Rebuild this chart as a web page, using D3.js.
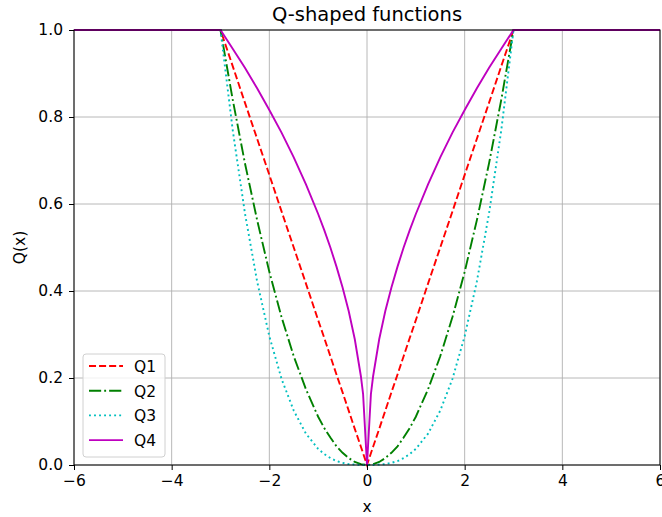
<!DOCTYPE html>
<html>
<head>
<meta charset="utf-8">
<script src="https://cdn.jsdelivr.net/npm/d3@7"></script>
<style>
  body { margin: 0; background: #fff; }
  text { font-family: "DejaVu Sans", sans-serif; fill: #000; }
</style>
</head>
<body>
<div id="chart"></div>
<script>
// sample points (x) and the four Q-shaped curves
const xs = [-6, -3, -2.75, -2.5, -2.25, -2, -1.75, -1.5, -1.25, -1, -0.875, -0.75, -0.625, -0.5, -0.375, -0.25, -0.125, -0.08, 0,
             0.08, 0.125, 0.25, 0.375, 0.5, 0.625, 0.75, 0.875, 1, 1.25, 1.5, 1.75, 2, 2.25, 2.5, 2.75, 3, 6];
const q1 = [1, 1, 0.917, 0.833, 0.75, 0.667, 0.583, 0.5, 0.417, 0.333, 0.292, 0.25, 0.208, 0.167, 0.125, 0.083, 0.042, 0.027, 0,
            0.027, 0.042, 0.083, 0.125, 0.167, 0.208, 0.25, 0.292, 0.333, 0.417, 0.5, 0.583, 0.667, 0.75, 0.833, 0.917, 1, 1];
const q2 = [1, 1, 0.840, 0.694, 0.563, 0.444, 0.340, 0.25, 0.174, 0.111, 0.085, 0.063, 0.043, 0.028, 0.016, 0.007, 0.002, 0.001, 0,
            0.001, 0.002, 0.007, 0.016, 0.028, 0.043, 0.063, 0.085, 0.111, 0.174, 0.25, 0.340, 0.444, 0.563, 0.694, 0.840, 1, 1];
const q3 = [1, 1, 0.770, 0.579, 0.422, 0.296, 0.198, 0.125, 0.072, 0.037, 0.025, 0.016, 0.009, 0.005, 0.002, 0.001, 0, 0, 0,
            0, 0, 0.001, 0.002, 0.005, 0.009, 0.016, 0.025, 0.037, 0.072, 0.125, 0.198, 0.296, 0.422, 0.579, 0.770, 1, 1];
const q4 = [1, 1, 0.957, 0.913, 0.866, 0.816, 0.764, 0.707, 0.645, 0.577, 0.540, 0.5, 0.456, 0.408, 0.354, 0.289, 0.204, 0.163, 0,
            0.163, 0.204, 0.289, 0.354, 0.408, 0.456, 0.5, 0.540, 0.577, 0.645, 0.707, 0.764, 0.816, 0.866, 0.913, 0.957, 1, 1];
const seriesNames = ['Q1', 'Q2', 'Q3', 'Q4'];
const xTicks = [-6, -4, -2, 0, 2, 4, 6];
const yTicks = [0, 0.2, 0.4, 0.6, 0.8, 1.0];

const width = 662, height = 517;
const margin = {top: 30, right: 2, bottom: 52, left: 74};
const lw = 1.9;
const fontSize = '15.5px';
const styles = [
    {color: '#ff0000', dash: [3.7 * lw, 1.6 * lw]},
    {color: '#008000', dash: [6.4 * lw, 1.6 * lw, 1 * lw, 1.6 * lw]},
    {color: '#00bfbf', dash: [1 * lw, 1.65 * lw]},
    {color: '#bf00bf', dash: null}
];

const svg = d3.select('#chart')
    .append('svg')
    .attr('width', width)
    .attr('height', height)
;

const x = d3.scaleLinear().domain([-6, 6]).range([margin.left, width - margin.right]);
const y = d3.scaleLinear().domain([0, 1]).range([height - margin.bottom, margin.top]);

// grid
svg.append('g')
    .selectAll('line.gx')
    .data(xTicks)
    .enter()
    .append('line')
    .attr('x1', d => x(d)).attr('x2', d => x(d))
    .attr('y1', y(0)).attr('y2', y(1))
    .style('stroke', '#b0b0b0').style('stroke-width', 0.9)
;
svg.append('g')
    .selectAll('line.gy')
    .data(yTicks)
    .enter()
    .append('line')
    .attr('x1', x(-6)).attr('x2', x(6))
    .attr('y1', d => y(d)).attr('y2', d => y(d))
    .style('stroke', '#b0b0b0').style('stroke-width', 0.9)
;

// curves
const allSeries = [q1, q2, q3, q4];
const line = d3.line()
    .x(d => x(d[0]))
    .y(d => y(d[1]))
;
allSeries.forEach((vals, i) => {
    const pts = xs.map((xv, j) => [xv, vals[j]]);
    const path = svg.append('path')
        .datum(pts)
        .attr('d', line)
        .style('fill', 'none')
        .style('stroke', styles[i].color)
        .style('stroke-width', lw)
    ;
    if (styles[i].dash) path.style('stroke-dasharray', styles[i].dash.join(','));
});

// frame
svg.append('rect')
    .attr('x', x(-6)).attr('y', y(1))
    .attr('width', x(6) - x(-6)).attr('height', y(0) - y(1))
    .style('fill', 'none').style('stroke', '#000').style('stroke-width', 1)
;

// axes
const xAxis = svg.append('g')
    .attr('transform', `translate(0, ${y(0)})`)
    .call(d3.axisBottom(x).tickValues(xTicks).tickSize(5).tickPadding(5)
        .tickFormat(d => d3.format('d')(d).replace('-', '\u2212')))
;
const yAxis = svg.append('g')
    .attr('transform', `translate(${x(-6)}, 0)`)
    .call(d3.axisLeft(y).tickValues(yTicks).tickSize(5).tickPadding(6).tickFormat(d3.format('.1f')))
;
[xAxis, yAxis].forEach(a => {
    a.select('.domain').remove();
    a.selectAll('text').style('font-size', fontSize).style('font-family', 'DejaVu Sans');
    a.selectAll('line').style('stroke', '#000');
});

// labels
svg.append('text')
    .text('Q-shaped functions')
    .attr('x', (x(-6) + x(6)) / 2)
    .attr('y', 21)
    .attr('text-anchor', 'middle')
    .style('font-size', '19.5px')
;
svg.append('text')
    .text('x')
    .attr('x', (x(-6) + x(6)) / 2)
    .attr('y', 512)
    .attr('text-anchor', 'middle')
    .style('font-size', fontSize)
;
svg.append('text')
    .text('Q(x)')
    .attr('text-anchor', 'middle')
    .attr('transform', `translate(25, ${(y(0) + y(1)) / 2}) rotate(-90)`)
    .style('font-size', fontSize)
;

// legend
const legend = svg.append('g').attr('transform', 'translate(83, 354)');
legend.append('rect')
    .attr('width', 82).attr('height', 103).attr('rx', 3)
    .style('fill', 'rgba(255,255,255,0.8)')
    .style('stroke', '#d0d0d0')
;
seriesNames.forEach((name, i) => {
    const ly = 12 + i * 24.7;
    const l = legend.append('line')
        .attr('x1', 6).attr('x2', 40)
        .attr('y1', ly).attr('y2', ly)
        .style('stroke', styles[i].color)
        .style('stroke-width', lw)
    ;
    if (styles[i].dash) l.style('stroke-dasharray', styles[i].dash.join(','));
    legend.append('text')
        .text(name)
        .attr('x', 51)
        .attr('y', ly + 6)
        .style('font-size', fontSize)
    ;
});
</script>
</body>
</html>
